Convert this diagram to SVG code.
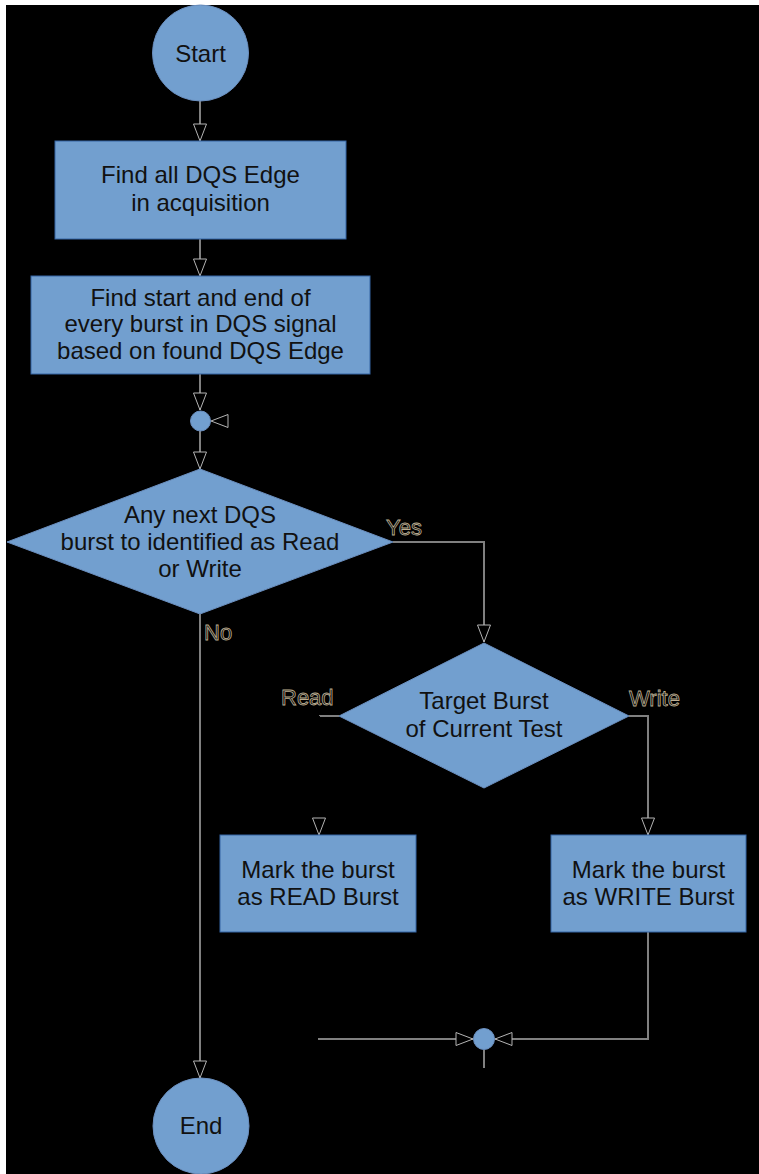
<svg xmlns="http://www.w3.org/2000/svg" width="759" height="1174" viewBox="0 0 759 1174">
  <defs>
    <style>
      .node { fill: #729fcf; stroke: #3465a4; stroke-width: 1; }
      .shape { fill: #729fcf; stroke: #6b8fbf; stroke-width: 1; }
      .txt { font-family: "Liberation Sans", Arial, sans-serif; font-size: 24px; fill: #111111; text-anchor: middle; }
      .lbl { font-family: "Liberation Sans", Arial, sans-serif; font-size: 22px; fill: #0a0a0a; stroke: #bcae92; stroke-width: 0.8; }
      .wire { fill: none; stroke: #808080; stroke-width: 2; }
      .wire-hidden { fill: none; stroke: #000000; stroke-width: 2; }
    </style>
    <marker id="arrow" markerUnits="userSpaceOnUse" markerWidth="20" markerHeight="16" viewBox="0 0 20 16" refX="18" refY="7" orient="auto" overflow="visible">
      <path d="M1,0.5 L18,7 L1,13.5 Z" fill="#000" stroke="#b4b4b4" stroke-width="1" stroke-linejoin="miter"/>
    </marker>
  </defs>

  <!-- canvas -->
  <rect x="0" y="0" width="759" height="1174" fill="#ffffff"/>
  <rect x="6" y="5" width="753" height="1169" fill="#000000"/>

  <!-- connectors -->
  <g id="connectors">
    <path class="wire" d="M200,101 V141" marker-end="url(#arrow)"/>
    <path class="wire" d="M200,239 V276" marker-end="url(#arrow)"/>
    <path class="wire" d="M200,374 V410" marker-end="url(#arrow)"/>
    <path class="wire" d="M200,431 V469" marker-end="url(#arrow)"/>
    <path class="wire-hidden" d="M240,421 H211" marker-end="url(#arrow)"/>
    <path class="wire" d="M393,542 H484 V642" marker-end="url(#arrow)"/>
    <path class="wire" d="M200,614 V1078" marker-end="url(#arrow)"/>
    <path class="wire" d="M339,716 H319"/>
    <path class="wire-hidden" d="M319,716 V835" marker-end="url(#arrow)"/>
    <path class="wire" d="M629,716 H648 V835" marker-end="url(#arrow)"/>
    <path class="wire" d="M648,932 V1039 H495" marker-end="url(#arrow)"/>
    <path class="wire" d="M318,1039 H473" marker-end="url(#arrow)"/>
    <path class="wire" d="M484,1050 V1068"/>
    <text class="lbl" x="386" y="535">Yes</text>
    <text class="lbl" x="204" y="640">No</text>
    <text class="lbl" x="281" y="705">Read</text>
    <text class="lbl" x="629" y="706">Write</text>
  </g>

  <g id="start">
    <circle class="shape" cx="200.5" cy="53" r="48"/>
    <text class="txt" x="200.5" y="62">Start</text>
  </g>

  <g id="find-edges">
    <rect class="node" x="55" y="141" width="291" height="98"/>
    <text class="txt" x="200.5" y="183">Find all DQS Edge</text>
    <text class="txt" x="200.5" y="211">in acquisition</text>
  </g>

  <g id="find-bursts">
    <rect class="node" x="31" y="276" width="339" height="98"/>
    <text class="txt" x="200.5" y="305.5">Find start and end of</text>
    <text class="txt" x="200.5" y="332">every burst in DQS signal</text>
    <text class="txt" x="200.5" y="358.5">based on found DQS Edge</text>
  </g>

  <g id="merge-top">
    <circle class="shape" cx="200.5" cy="421" r="10"/>
  </g>

  <g id="any-next">
    <polygon class="shape" points="200,469 393,542 200,614 7,542"/>
    <text class="txt" x="200" y="523">Any next DQS</text>
    <text class="txt" x="200" y="549.5">burst to identified as Read</text>
    <text class="txt" x="200" y="576.5">or Write</text>
  </g>

  <g id="target-burst">
    <polygon class="shape" points="484,643 629,716 484,788 339,716"/>
    <text class="txt" x="484" y="709">Target Burst</text>
    <text class="txt" x="484" y="736.5">of Current Test</text>
  </g>

  <g id="mark-read">
    <rect class="node" x="220" y="835" width="196" height="97"/>
    <text class="txt" x="318" y="878">Mark the burst</text>
    <text class="txt" x="318" y="905">as READ Burst</text>
  </g>

  <g id="mark-write">
    <rect class="node" x="551" y="835" width="195" height="97"/>
    <text class="txt" x="648.5" y="878">Mark the burst</text>
    <text class="txt" x="648.5" y="905">as WRITE Burst</text>
  </g>

  <g id="merge-bottom">
    <circle class="shape" cx="484" cy="1039" r="10.5"/>
  </g>

  <g id="end">
    <circle class="shape" cx="201" cy="1126" r="48"/>
    <text class="txt" x="201" y="1134">End</text>
  </g>
</svg>
